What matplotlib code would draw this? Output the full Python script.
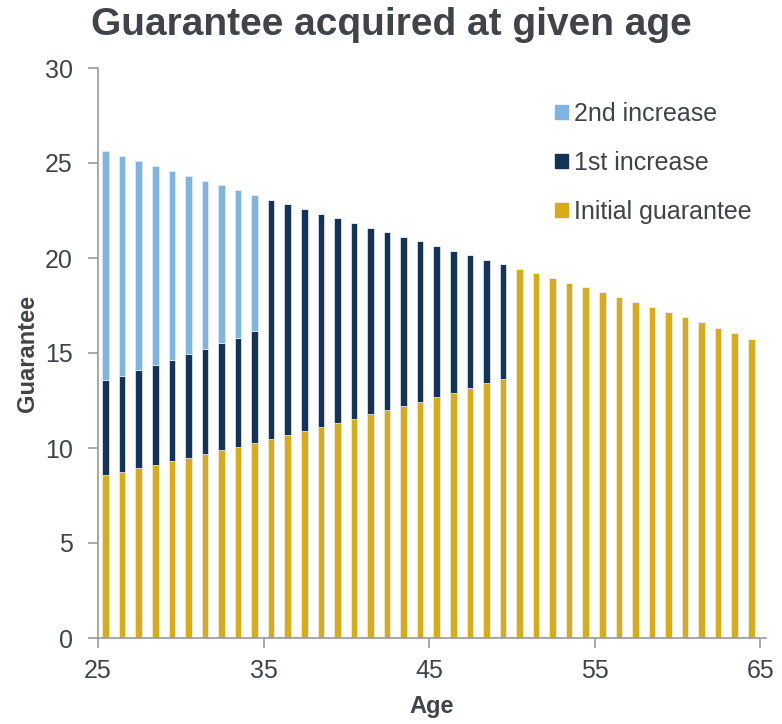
import numpy as np
import matplotlib.pyplot as plt
from matplotlib.patches import Patch

plt.rcParams['font.family'] = ['Liberation Sans', 'DejaVu Sans']

ages = np.arange(25, 65)

# guarantee components per age at acquisition
initial = np.array([8.59, 8.75, 8.95, 9.12, 9.29, 9.49, 9.68, 9.87, 10.07, 10.26,
                    10.47, 10.69, 10.90, 11.09, 11.32, 11.53, 11.77, 11.98, 12.21, 12.44,
                    12.67, 12.92, 13.16, 13.41, 13.64, 19.44, 19.21, 18.96, 18.71, 18.47,
                    18.22, 17.96, 17.70, 17.44, 17.17, 16.87, 16.61, 16.33, 16.03, 15.73])
first_inc = np.array([4.97, 5.06, 5.14, 5.25, 5.36, 5.45, 5.55, 5.66, 5.74, 5.89,
                      12.58, 12.14, 11.68, 11.24, 10.77, 10.31, 9.83, 9.37, 8.89, 8.44,
                      7.96, 7.46, 6.99, 6.50, 6.04] + [0] * 15)
second_inc = np.array([12.08, 11.56, 11.00, 10.48, 9.93, 9.40, 8.84, 8.30, 7.75, 7.17] + [0] * 30)

c_init = '#d9ab18'
c_first = '#133456'
c_second = '#7db4e2'
txt = '#404448'
axc = '#9a9a9a'

fig = plt.figure(figsize=(7.82, 7.24), dpi=100)
ax = fig.add_axes([98 / 782, 86 / 724, 668 / 782, 570 / 724])

x = ages + 0.46
w = 0.4
kw = dict(width=w, edgecolor='#e8eef5', linewidth=0.5)
ax.bar(x, initial, color=c_init, **kw)
ax.bar(x, first_inc, bottom=initial, color=c_first, **kw)
ax.bar(x, second_inc, bottom=initial + first_inc, color=c_second, **kw)

ax.set_xlim(25, 65.35)
ax.set_ylim(0, 30)
ax.set_xticks([25, 35, 45, 55, 65])
ax.set_yticks(range(0, 31, 5))

for s in ['top', 'right']:
    ax.spines[s].set_visible(False)
for s in ['left', 'bottom']:
    ax.spines[s].set_color(axc)
    ax.spines[s].set_linewidth(1.2)
ax.tick_params(colors=axc, labelcolor=txt, labelsize=18, length=7, width=1.2)
ax.tick_params(axis='y', pad=11)
ax.tick_params(axis='x', pad=8)

ax.set_xlabel('Age', fontsize=17, fontweight='bold', color=txt, labelpad=9)
ax.set_ylabel('Guarantee', fontsize=17, fontweight='bold', color=txt, labelpad=4)
fig.suptitle('Guarantee acquired at given age', fontsize=28, fontweight='bold',
             color=txt, x=0.5, y=0.99)

handles = [Patch(color=c_second, label='2nd increase'),
           Patch(color=c_first, label='1st increase'),
           Patch(color=c_init, label='Initial guarantee')]
ax.legend(handles=handles, loc='upper left', bbox_to_anchor=(555 / 782, 1 - 102 / 724),
          bbox_transform=fig.transFigure, borderpad=0, borderaxespad=0,
          frameon=False, fontsize=18, handlelength=0.5, handleheight=0.5,
          handletextpad=0.25, labelspacing=1.0, labelcolor=txt)

fig.savefig('out.png', dpi=100, facecolor='white')
